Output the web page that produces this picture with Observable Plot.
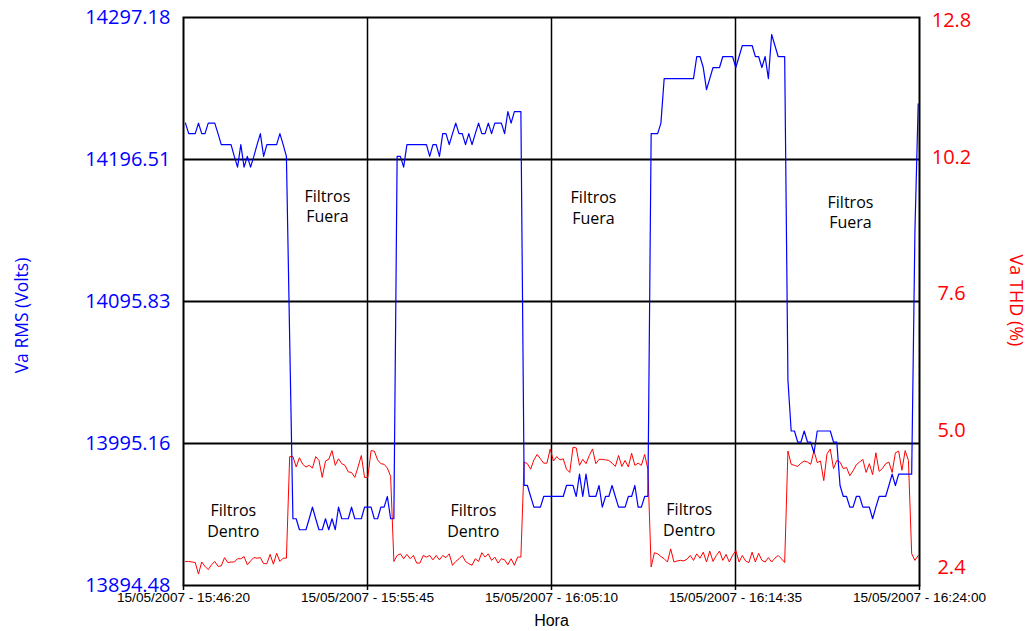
<!DOCTYPE html>
<html>
<head>
<meta charset="utf-8">
<script src="https://cdn.jsdelivr.net/npm/d3@7"></script>
<script src="https://cdn.jsdelivr.net/npm/@observablehq/plot@0.6"></script>
<style>
  html, body { margin: 0; padding: 0; background: #ffffff; }
</style>
</head>
<body>
<div id="chart"></div>
<script>
// ---- Data ----
const xTickLabels = ["15/05/2007 - 15:46:20", "15/05/2007 - 15:55:45", "15/05/2007 - 16:05:10", "15/05/2007 - 16:14:35", "15/05/2007 - 16:24:00"];
const firstSample = "15/05/2007 - 15:46:26";
const sampleStepSeconds = 10;

const rmsTicks = [13894.48, 13995.16, 14095.83, 14196.51, 14297.18];
const thdTicks = [2.4, 5.0, 7.6, 10.2, 12.8];
// the THD labels on the right are spread a little inside the RMS range (as in the original)
const thdLabelRange = [13907.2, 14295.1];

// Va RMS (Volts), one reading per sample
const vaRms = [
  14222.3, 14214.8, 14214.8, 14214.8, 14222.3, 14214.8, 14214.8, 14222.3, 14222.3, 14222.3,
  14214.8, 14207.0, 14207.0, 14207.0, 14207.0, 14198.7, 14191.1, 14207.0, 14191.1, 14198.7,
  14191.1, 14198.7, 14207.0, 14214.8, 14198.7, 14207.0, 14207.0, 14207.0, 14207.0, 14214.8,
  14207.0, 14198.7, 14070.0, 13941.8, 13941.8, 13934.0, 13934.0, 13934.0, 13941.8, 13950.0,
  13941.8, 13934.0, 13934.0, 13941.8, 13934.0, 13941.8, 13934.0, 13950.0, 13941.8, 13941.8,
  13941.8, 13950.0, 13941.8, 13941.8, 13941.8, 13950.0, 13950.0, 13950.0, 13941.8, 13941.8,
  13950.0, 13950.0, 13957.6, 13941.8, 13941.8, 14198.7, 14198.7, 14191.1, 14207.0, 14207.0,
  14207.0, 14207.0, 14207.0, 14207.0, 14207.0, 14198.7, 14207.0, 14207.0, 14198.7, 14214.8,
  14214.8, 14207.0, 14214.8, 14222.3, 14214.8, 14214.8, 14207.0, 14214.8, 14207.0, 14214.8,
  14222.3, 14214.8, 14214.8, 14222.3, 14214.8, 14222.3, 14222.3, 14222.3, 14214.8, 14230.5,
  14222.3, 14230.5, 14230.5, 14230.5, 13965.4, 13965.4, 13957.6, 13950.0, 13950.0, 13950.0,
  13957.6, 13957.6, 13957.6, 13957.6, 13957.6, 13957.6, 13957.6, 13965.4, 13965.4, 13965.4,
  13957.6, 13973.4, 13957.6, 13973.4, 13957.6, 13957.6, 13957.6, 13965.4, 13950.0, 13957.6,
  13957.6, 13965.4, 13957.6, 13950.0, 13950.0, 13950.0, 13957.6, 13957.6, 13965.4, 13950.0,
  13950.0, 13957.6, 13957.6, 14214.8, 14214.8, 14214.8, 14222.3, 14253.9, 14253.9, 14253.9,
  14253.9, 14253.9, 14253.9, 14253.9, 14253.9, 14253.9, 14253.9, 14269.5, 14269.5, 14261.7,
  14246.1, 14253.9, 14261.7, 14261.7, 14261.7, 14269.5, 14269.5, 14269.5, 14269.5, 14261.7,
  14269.5, 14277.3, 14277.3, 14277.3, 14277.3, 14269.5, 14269.5, 14261.7, 14269.5, 14253.9,
  14285.1, 14277.3, 14269.5, 14269.5, 14269.5, 14040.0, 14004.0, 14004.0, 13996.2, 13996.2,
  14004.0, 13996.2, 13996.2, 13988.4, 14004.0, 14004.0, 14004.0, 14004.0, 14004.0, 13996.2,
  13996.2, 13965.4, 13957.6, 13957.6, 13950.0, 13950.0, 13957.6, 13957.6, 13950.0, 13950.0,
  13950.0, 13941.8, 13950.0, 13957.6, 13957.6, 13957.6, 13965.4, 13973.4, 13965.4, 13973.4,
  13973.4, 13973.4, 13973.4, 13973.4, 14146.0, 14236.0
];

// Va THD (%), one reading per sample
const vaThd = [
  2.84, 2.84, 2.83, 2.82, 2.61, 2.83, 2.75, 2.69, 2.78, 2.84,
  2.75, 2.76, 2.91, 2.82, 2.83, 2.83, 2.89, 2.89, 2.93, 2.78,
  2.85, 2.91, 2.90, 2.91, 2.80, 2.80, 2.97, 2.79, 2.99, 2.84,
  2.90, 2.90, 4.76, 4.76, 4.57, 4.74, 4.62, 4.57, 4.60, 4.55,
  4.76, 4.69, 4.38, 4.68, 4.71, 4.87, 4.60, 4.72, 4.63, 4.60,
  4.48, 4.47, 4.38, 4.57, 4.78, 4.38, 4.38, 4.87, 4.86, 4.70,
  4.63, 4.62, 4.55, 4.40, 2.84, 2.95, 2.98, 2.89, 2.97, 2.89,
  2.95, 2.81, 2.81, 2.95, 2.92, 2.95, 2.87, 2.95, 2.87, 2.95,
  2.91, 2.98, 2.77, 2.84, 2.89, 2.95, 2.84, 2.80, 2.77, 2.89,
  2.84, 3.00, 2.92, 2.98, 2.86, 2.92, 2.81, 2.89, 2.87, 2.78,
  2.89, 2.77, 2.92, 2.92, 4.66, 4.63, 4.53, 4.70, 4.80, 4.72,
  4.64, 4.64, 4.90, 4.68, 4.76, 4.70, 4.72, 4.53, 4.47, 4.93,
  4.92, 4.60, 4.71, 4.63, 4.78, 4.90, 4.63, 4.71, 4.71, 4.70,
  4.69, 4.64, 4.58, 4.78, 4.58, 4.69, 4.57, 4.82, 4.60, 4.64,
  4.60, 4.80, 4.53, 2.74, 3.00, 2.98, 2.93, 2.89, 2.83, 3.07,
  2.83, 2.85, 2.86, 2.85, 2.88, 2.95, 2.86, 2.98, 2.90, 3.01,
  2.83, 3.03, 2.84, 2.95, 3.03, 2.86, 2.97, 2.83, 2.95, 3.04,
  2.83, 2.95, 2.85, 2.82, 3.01, 2.83, 2.99, 2.86, 2.83, 2.91,
  2.83, 2.90, 2.95, 2.89, 2.82, 4.86, 4.62, 4.60, 4.58, 4.64,
  4.68, 4.66, 4.62, 4.87, 4.65, 4.68, 4.32, 4.81, 4.90, 4.54,
  4.69, 4.66, 4.54, 4.56, 4.41, 4.50, 4.61, 4.66, 4.71, 4.47,
  4.63, 4.43, 4.83, 4.49, 4.54, 4.63, 4.66, 4.47, 4.83, 4.86,
  4.51, 4.87, 4.69, 2.98, 2.86, 2.95
];

// Annotations
const noteTimes = ["15/05/2007 - 15:53:42", "15/05/2007 - 16:07:19", "15/05/2007 - 16:20:28",
                   "15/05/2007 - 15:48:53", "15/05/2007 - 16:01:10", "15/05/2007 - 16:12:13"];
const noteValues = [14164.0, 14163.2, 14159.7, 13940.9, 13940.9, 13942.0];
const noteTexts = ["Filtros\nFuera", "Filtros\nFuera", "Filtros\nFuera",
                   "Filtros\nDentro", "Filtros\nDentro", "Filtros\nDentro"];

const xTitle = "Hora";
const yLeftTitle = "Va RMS (Volts)";
const yRightTitle = "Va THD (%)";

// ---- Build ----
const fmt = "%d/%m/%Y - %H:%M:%S";
const parse = d3.timeParse(fmt);
const format = d3.timeFormat(fmt);
const tickDates = xTickLabels.map(parse);
const t0 = parse(firstSample);

// map THD (right axis) onto RMS (left axis) coordinates
const thdToRms = d3.scaleLinear()
  .domain([thdTicks[0], thdTicks[thdTicks.length - 1]])
  .range([rmsTicks[0], rmsTicks[rmsTicks.length - 1]]);
const thdLabelPos = d3.scaleLinear()
  .domain([thdTicks[0], thdTicks[thdTicks.length - 1]])
  .range(thdLabelRange);

const rows = vaRms.map((v, i) => ({
  time: d3.timeSecond.offset(t0, i * sampleStepSeconds),
  rms: v,
  thd: vaThd[i]
}));

const notes = noteTexts.map((t, i) => ({time: parse(noteTimes[i]), value: noteValues[i], text: t}));

const FONT = "'Open Sans', 'Noto Sans', sans-serif";

const chart = Plot.plot({
  width: 1034,
  height: 631,
  marginLeft: 183,
  marginRight: 115,
  marginTop: 17,
  marginBottom: 46,
  style: {fontFamily: FONT, background: "#ffffff", color: "black", overflow: "visible"},
  x: {type: "time", domain: [tickDates[0], tickDates[tickDates.length - 1]]},
  y: {domain: [rmsTicks[0], rmsTicks[rmsTicks.length - 1]]},
  marks: [
    Plot.gridY(rmsTicks.slice(1, -1), {stroke: "black", strokeOpacity: 1, strokeWidth: 2}),
    Plot.gridX(tickDates.slice(1, -1), {stroke: "black", strokeOpacity: 1, strokeWidth: 1.5}),
    Plot.line(rows, {x: "time", y: d => thdToRms(d.thd), stroke: "#ff0000", strokeWidth: 1}),
    Plot.line(rows, {x: "time", y: "rms", stroke: "#0000ff", strokeWidth: 1.2}),
    Plot.frame({stroke: "black", strokeWidth: 2}),
    Plot.axisX(tickDates, {
      tickSize: 5, tickPadding: 2, tickFormat: d => format(d), label: null,
      fontSize: 13.6, fontFamily: "'Liberation Sans', Arial, sans-serif", color: "black", strokeWidth: 1.5
    }),
    Plot.axisY(rmsTicks, {
      anchor: "left", tickSize: 0, tickPadding: 13, tickFormat: d => d.toFixed(2), label: null,
      fontSize: 20, color: "#0000ff"
    }),
    Plot.axisY(thdTicks.map(thdLabelPos), {
      anchor: "right", tickSize: 0, tickPadding: 32, textAnchor: "middle",
      tickFormat: d => thdLabelPos.invert(d).toFixed(1), label: null,
      fontSize: 20, color: "#ff0000"
    }),
    Plot.text(notes, {x: "time", y: "value", text: "text", fontSize: 16, lineHeight: 1.3, fill: "black"}),
    Plot.text([xTitle], {text: d => d, frameAnchor: "bottom", lineAnchor: "middle", dy: 35, fontSize: 16, fill: "black",
      fontFamily: "'Liberation Sans', Arial, sans-serif"}),
    Plot.text([yLeftTitle], {text: d => d, frameAnchor: "left", textAnchor: "middle", lineAnchor: "middle",
      dx: -161, dy: 14, rotate: -90, fontSize: 17.5, fill: "#0000ff"}),
    Plot.text([yRightTitle], {text: d => d, frameAnchor: "right", textAnchor: "middle", lineAnchor: "middle",
      dx: 96, dy: -1, rotate: 90, fontSize: 18, fill: "#ff0000"})
  ]
});

document.getElementById("chart").appendChild(chart);
</script>
</body>
</html>
